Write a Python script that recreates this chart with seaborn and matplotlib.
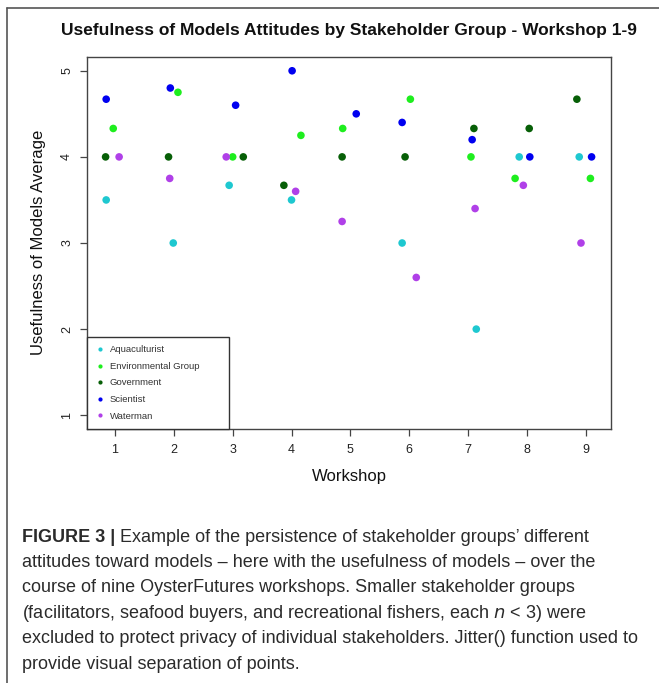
"""Usefulness of models attitudes by stakeholder group, workshops 1-9."""

import matplotlib.pyplot as plt
import pandas as pd
import seaborn as sns
from matplotlib.lines import Line2D

W, H = 659, 683

GROUPS = ["Aquaculturist", "Environmental Group", "Government", "Scientist", "Waterman"]
COLORS = ["#1ec8d0", "#1eee1e", "#075f07", "#0000f0", "#b040e8"]

# workshop positions as plotted (after jitter) and group averages
aqua_x = [0.85, 1.99, 2.94, 4.00, 5.88, 7.14, 7.87, 8.89]
aqua_y = [3.50, 3.00, 3.67, 3.50, 3.00, 2.00, 4.00, 4.00]
env_x = [0.97, 2.07, 3.00, 4.16, 4.87, 6.02, 7.05, 7.80, 9.08]
env_y = [4.33, 4.75, 4.00, 4.25, 4.33, 4.67, 4.00, 3.75, 3.75]
gov_x = [0.84, 1.91, 3.18, 3.87, 4.86, 5.93, 7.10, 8.04, 8.85]
gov_y = [4.00, 4.00, 4.00, 3.67, 4.00, 4.00, 4.33, 4.33, 4.67]
sci_x = [0.85, 1.94, 3.05, 4.01, 5.10, 5.88, 7.07, 8.05, 9.10]
sci_y = [4.67, 4.80, 4.60, 5.00, 4.50, 4.40, 4.20, 4.00, 4.00]
water_x = [1.07, 1.93, 2.89, 4.07, 4.86, 6.12, 7.12, 7.94, 8.92]
water_y = [4.00, 3.75, 4.00, 3.60, 3.25, 2.60, 3.40, 3.67, 3.00]

WORKSHOPS = list(range(1, 10))
Y_TICKS = [1, 2, 3, 4, 5]

CAPTION = [
    "attitudes toward models \u2013 here with the usefulness of models \u2013 over the",
    "course of nine OysterFutures workshops. Smaller stakeholder groups",
    "(facilitators, seafood buyers, and recreational fishers, each $\\it{n}$ < 3) were",
    "excluded to protect privacy of individual stakeholders. Jitter() function used to",
    "provide visual separation of points.",
]


def build_frame() -> pd.DataFrame:
    parts = []
    for name, xs, ys in zip(
        GROUPS,
        [aqua_x, env_x, gov_x, sci_x, water_x],
        [aqua_y, env_y, gov_y, sci_y, water_y],
    ):
        parts.append(pd.DataFrame({"workshop": xs, "usefulness": ys, "group": name}))
    return pd.concat(parts, ignore_index=True)


def main() -> None:
    sns.set_theme(style="white")
    plt.rcParams["font.family"] = ["Liberation Sans", "DejaVu Sans"]

    df = build_frame()
    fig = plt.figure(figsize=(W / 100, H / 100), dpi=100)
    ax = fig.add_axes([87 / W, 1 - 429 / H, (611 - 87) / W, (429 - 57) / H])

    sns.scatterplot(
        data=df, x="workshop", y="usefulness", hue="group", hue_order=GROUPS,
        palette=dict(zip(GROUPS, COLORS)), s=30, linewidth=0, ax=ax,
    )

    ax.set_xlim(0.524, 9.43)
    ax.set_ylim(0.84, 5.16)
    ax.set_xticks(WORKSHOPS)
    ax.set_yticks(Y_TICKS)
    ax.set_xlabel("")
    ax.set_ylabel("")
    for side in ax.spines.values():
        side.set_color("#444444")
        side.set_linewidth(1.0)
    ax.tick_params(axis="both", direction="out", length=5, width=0.9, color="#444444",
                   labelsize=9, labelcolor="#222222", bottom=True, left=True)
    ax.tick_params(axis="x", pad=6)
    ax.tick_params(axis="y", pad=5)
    for lab in ax.get_yticklabels():
        lab.set_rotation(90)
        lab.set_va("center")

    sns.move_legend(
        ax, "lower left", bbox_to_anchor=(0, 0, 142 / 524, 0.2), mode="expand",
        borderaxespad=0, title=None,
        frameon=True, fancybox=False, edgecolor="#333333", framealpha=1,
        fontsize=6.8, markerscale=0.55, handlelength=1.0, handletextpad=0.5,
        borderpad=0.9, labelspacing=0.8,
    )
    leg = ax.get_legend()
    leg.get_frame().set_linewidth(1.0)
    for t in leg.get_texts():
        t.set_color("#333333")

    fig.text(349 / W, 1 - 31 / H, "Usefulness of Models Attitudes by Stakeholder Group - Workshop 1-9",
             ha="center", va="center", fontsize=12.5, fontweight="bold", color="#111111")
    fig.text(349 / W, 1 - 476 / H, "Workshop", ha="center", va="center", fontsize=12, color="#111111")
    fig.text(39 / W, 1 - 242 / H, "Usefulness of Models Average", ha="center", va="center",
             rotation=90, fontsize=12, color="#111111")

    # outer frame of the figure panel
    fig.add_artist(Line2D([7 / W, 1], [1 - 8 / H] * 2, transform=fig.transFigure, color="#555555", lw=1.2))
    fig.add_artist(Line2D([7 / W] * 2, [1 - 8 / H, 0], transform=fig.transFigure, color="#555555", lw=1.2))

    # caption
    cap_size = 13
    cap_color = "#2b2b2b"
    first = fig.text(22 / W, 1 - 537 / H, "FIGURE 3 |", ha="left", va="center",
                     fontsize=cap_size, fontweight="bold", color=cap_color)
    fig.canvas.draw()
    bb = first.get_window_extent()
    fig.text(bb.x1 / W + 5 / W, 1 - 537 / H,
             "Example of the persistence of stakeholder groups\u2019 different",
             ha="left", va="center", fontsize=cap_size, color=cap_color)
    for i, line in enumerate(CAPTION):
        fig.text(22 / W, 1 - (562.5 + 25.4 * i) / H, line, ha="left", va="center",
                 fontsize=cap_size, color=cap_color)

    fig.savefig("out.png", dpi=100)
    plt.close(fig)


if __name__ == "__main__":
    main()
